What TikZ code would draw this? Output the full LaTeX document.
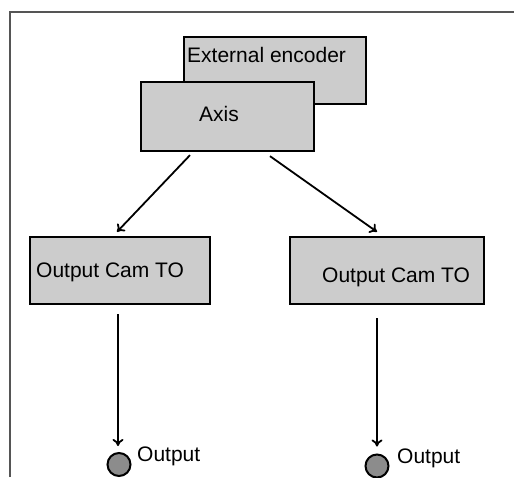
\documentclass[tikz,border=0pt]{standalone}
\usepackage{fontspec}
\setmainfont{Liberation Sans}
\usetikzlibrary{arrows.meta}
\definecolor{boxfill}{HTML}{CCCCCC}
\definecolor{dotfill}{HTML}{8C8C8C}
\definecolor{framecol}{HTML}{555555}
\begin{document}
\begin{tikzpicture}[x=1pt,y=-1pt,
  box/.style={draw=black,line width=2.3pt,fill=boxfill,inner sep=0pt},
  txt/.style={anchor=base west,inner sep=0pt,font=\fontsize{21}{25}\selectfont},
  dot/.style={circle,draw=black,line width=2pt,fill=dotfill,inner sep=0pt,minimum size=23pt},
  arr/.style={line width=1.8pt,-{To[length=7pt,width=11pt]}}]
  \useasboundingbox (0,0) rectangle (514,477);
  % outer frame (left and top edges only)
  \draw[framecol,line width=1.8pt] (10,477) -- (10,12) -- (514,12);
  % source boxes
  \node[box,minimum width=182pt,minimum height=67pt] (ext) at (275,70.5) {};
  \node[txt] (extT) at (187,62) {External encoder};
  \node[box,minimum width=173pt,minimum height=69pt] (axis) at (227.5,116.5) {};
  \node[txt] (axisT) at (199,121) {Axis};
  % output cams
  \node[box,minimum width=180pt,minimum height=67pt] (camL) at (120,270.5) {};
  \node[txt] (camLT) at (36,277) {Output Cam TO};
  \node[box,minimum width=194pt,minimum height=67pt] (camR) at (387,270.5) {};
  \node[txt] (camRT) at (322,282) {Output Cam TO};
  % outputs
  \node[dot] (oL) at (119,464.5) {};
  \node[txt] (oLT) at (137,461) {Output};
  \node[dot] (oR) at (377,466) {};
  \node[txt] (oRT) at (397,463) {Output};
  % connectors
  \draw[arr] ([xshift=-37.5pt,yshift=-3pt]axis.south) -- ([xshift=-3pt,yshift=4pt]camL.north);
  \draw[arr] ([xshift=42.5pt,yshift=-4pt]axis.south) -- ([xshift=-10pt,yshift=4pt]camR.north);
  \draw[arr] ([xshift=-2pt,yshift=-9pt]camL.south) -- ([xshift=-1pt,yshift=6pt]oL.north);
  \draw[arr] ([xshift=-10pt,yshift=-13pt]camR.south) -- ([yshift=7pt]oR.north);
\end{tikzpicture}
\end{document}
